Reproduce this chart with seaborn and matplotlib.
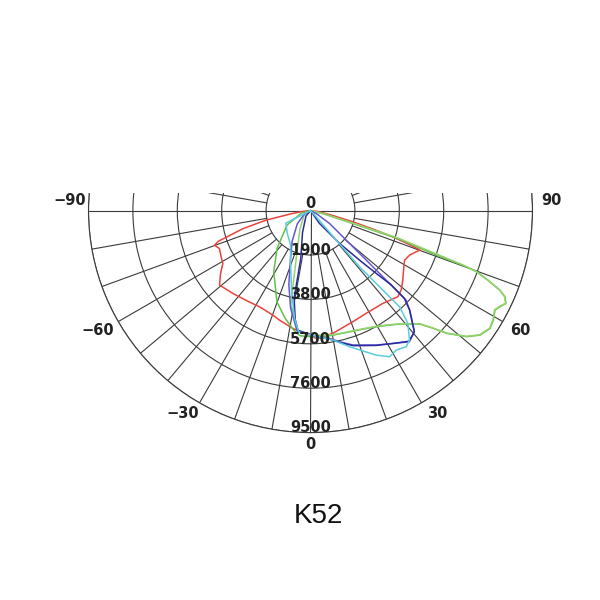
import numpy as np
import pandas as pd
import matplotlib
matplotlib.use("Agg")
import matplotlib.pyplot as plt
from matplotlib.patches import Rectangle
import seaborn as sns

# intensity curves, angle in degrees (0 = straight down, + to the right), cd
red_deg = [-90, -84, -81, -77.9, -75, -71.6, -70.2, -67.4, -63, -58.9, -55, -50.7, -43.2, -35,
           -27.9, -20, -15.8, -8.5, 2.6, 10.3, 20.8, 28.4, 37.9, 45.4, 49, 53, 58, 62.2, 65.8,
           68, 70.2, 71, 72.3, 73.5, 75.2, 78, 83, 90]
red_cd = [0, 350, 770, 1940, 3000, 4150, 4370, 4220, 4300, 4380, 4700, 5030, 4860, 4720,
          4660, 4750, 4870, 5100, 5475, 5340, 5090, 5000, 5035, 5250, 5150, 4945, 4700, 4550, 4650,
          4800, 4980, 4500, 3700, 2800, 1870, 900, 300, 0]

green_deg = [-90, -75, -58.3, -41.5, -31, -20.2, -13.2, -8, -4.8, 0.2, 5.8, 10.4, 18.1, 25.5, 31,
             38.3, 44, 46.2, 48, 51.1, 53.7, 56.7, 59.1, 61.7, 63.1, 64.6, 66.1, 67.2, 68.5, 69.8,
             70.2, 70.6, 72.2, 73, 76, 90]
green_cd = [0, 400, 1180, 2160, 3055, 4160, 4740, 5165, 5375, 5400, 5425, 5415, 5455, 5585, 5770,
            6185, 6750, 7280, 7850, 8590, 9000, 9190, 9120, 8970, 9095, 9260, 9100, 8795, 8200, 7580,
            7100, 5590, 4010, 1910, 600, 0]

lgreen_deg = [-90, -60, -30, -19.1, -14.2, -11.8, -6.3, 0, 10.4, 18.1, 25.5, 31, 38.3, 44, 46.2,
              48, 51.1, 53.7, 56.7, 59.1, 61.7, 63.1, 64.6, 66.1, 67.2, 68.5, 69.8, 70.4, 71.2,
              72.6, 73.6, 77, 90]
lgreen_cd = [0, 300, 900, 1700, 2830, 4120, 5190, 5350, 5400, 5440, 5570, 5750, 6170, 6730, 7260,
             7830, 8570, 8980, 9170, 9100, 8950, 9070, 9240, 9080, 8780, 8180, 7560, 6900, 5400,
             3900, 1850, 550, 0]

purple_deg = [-90, -70, -58, -45, -30.9, -22, -16.3, -11.6, -6.3, 4, 8.5, 12.5, 17.5, 26, 31.8,
              37, 40.6, 44.9, 46.9, 47.4, 48.4, 50.4, 56, 62, 90]
purple_cd = [0, 120, 330, 800, 1530, 2300, 3300, 4250, 5190, 5410, 5530, 5750, 6030, 6400, 6690,
             7030, 6830, 6010, 5600, 4400, 3190, 1980, 980, 300, 0]

navy_deg = [-90, -40, -20, -11.5, -10.6, -8, -6, 4, 8.5, 12.5, 17.5, 26, 31.8, 37, 40.6, 44.9,
            46.9, 47.4, 46.3, 44.7, 41.5, 35, 30]
navy_cd = [0, 300, 1000, 2080, 3810, 4700, 5150, 5450, 5560, 5780, 6060, 6420, 6690, 7000, 6830,
           6010, 5500, 4700, 3890, 2980, 1870, 670, 0]

cyan_deg = [-75, -63, -45, -30, -22, -13.4, -8.5, -5.6, 4.1, 9.8, 16, 24.4, 28.4, 31.6, 35.1,
            37.4, 40.8, 42.8, 42.3, 41.1, 41.1, 42.6, 45]
cyan_cd = [0, 1185, 1400, 1700, 2285, 3500, 4650, 5210, 5425, 5620, 6060, 6790, 7110, 7005, 7120,
           6975, 6375, 5610, 4600, 3190, 1675, 360, 0]

ring_values = [1900, 3800, 5700, 7600, 9500]
angle_labels = ["\u221290", "\u221260", "\u221230", "0", "30", "60", "90"]
angle_label_deg = [-92.3, -60.6, -32.2, 0, 32, 60.3, 92.3]
angle_label_r = [10300, 10430, 10240, 10030, 10220, 10320, 10300]

colors = {"red": "#e8433d", "green": "#62c04a", "lgreen": "#93d36c",
          "purple": "#6558d0", "navy": "#2a2c9e", "cyan": "#5ccbdb"}

frames = []
for name, deg, cd in [("red", red_deg, red_cd), ("green", green_deg, green_cd),
                      ("lgreen", lgreen_deg, lgreen_cd), ("purple", purple_deg, purple_cd),
                      ("navy", navy_deg, navy_cd), ("cyan", cyan_deg, cyan_cd)]:
    frames.append(pd.DataFrame({"theta": np.deg2rad(deg), "cd": cd, "curve": name}))
df = pd.concat(frames, ignore_index=True)

sns.set_style("white")
plt.rcParams["font.family"] = ["DejaVu Sans"]

fig = plt.figure(figsize=(6, 6), dpi=100)
ax = fig.add_axes([0.1475, 0.279, 0.74, 0.74], projection="polar")
ax.set_theta_zero_location("S")
ax.set_theta_direction(1)
ax.set_ylim(0, 9500)

grid_col = "#3b3b3b"
ax.set_yticks(ring_values)
ax.set_yticklabels([])
ax.set_xticks([])
ax.yaxis.grid(True, color=grid_col, lw=0.8)
ax.xaxis.grid(False)
ax.spines["polar"].set_color(grid_col)
ax.spines["polar"].set_linewidth(0.8)

# radial grid lines, start at the first ring except the axis lines
for d in range(0, 360, 10):
    r0 = 0 if d in (0, 90, 270) else ring_values[0]
    ax.plot([np.deg2rad(d)] * 2, [r0, 9500], color=grid_col, lw=0.8, zorder=1)

sns.lineplot(data=df, x="theta", y="cd", hue="curve", palette=colors, sort=False,
             estimator=None, lw=1.1, legend=False, ax=ax, zorder=3)
ax.set_xlabel("")
ax.set_ylabel("")

for v in ring_values:
    ax.text(0, v + 120, str(v), ha="center", va="bottom", fontsize=10.5,
            fontweight="bold", color="#222222", zorder=4)
ax.text(0, 0, "0", ha="center", va="bottom", fontsize=10.5, fontweight="bold",
        color="#222222", zorder=4, transform=ax.transData)

for lab, d, r in zip(angle_labels, angle_label_deg, angle_label_r):
    ax.text(np.deg2rad(d), r, lab, ha="center", va="center", fontsize=10.5,
            fontweight="bold", color="#222222")

# top part of the diagram is cut off
fig.add_artist(Rectangle((0, 1 - 192.5 / 600), 1, 192.5 / 600, transform=fig.transFigure,
                         facecolor="white", edgecolor="none", zorder=10))

fig.text(318.5 / 600, 1 - 516 / 600, "K52", ha="center", va="center", fontsize=20,
         family="Liberation Sans", color="#111111")

fig.savefig("out.png", dpi=100)
